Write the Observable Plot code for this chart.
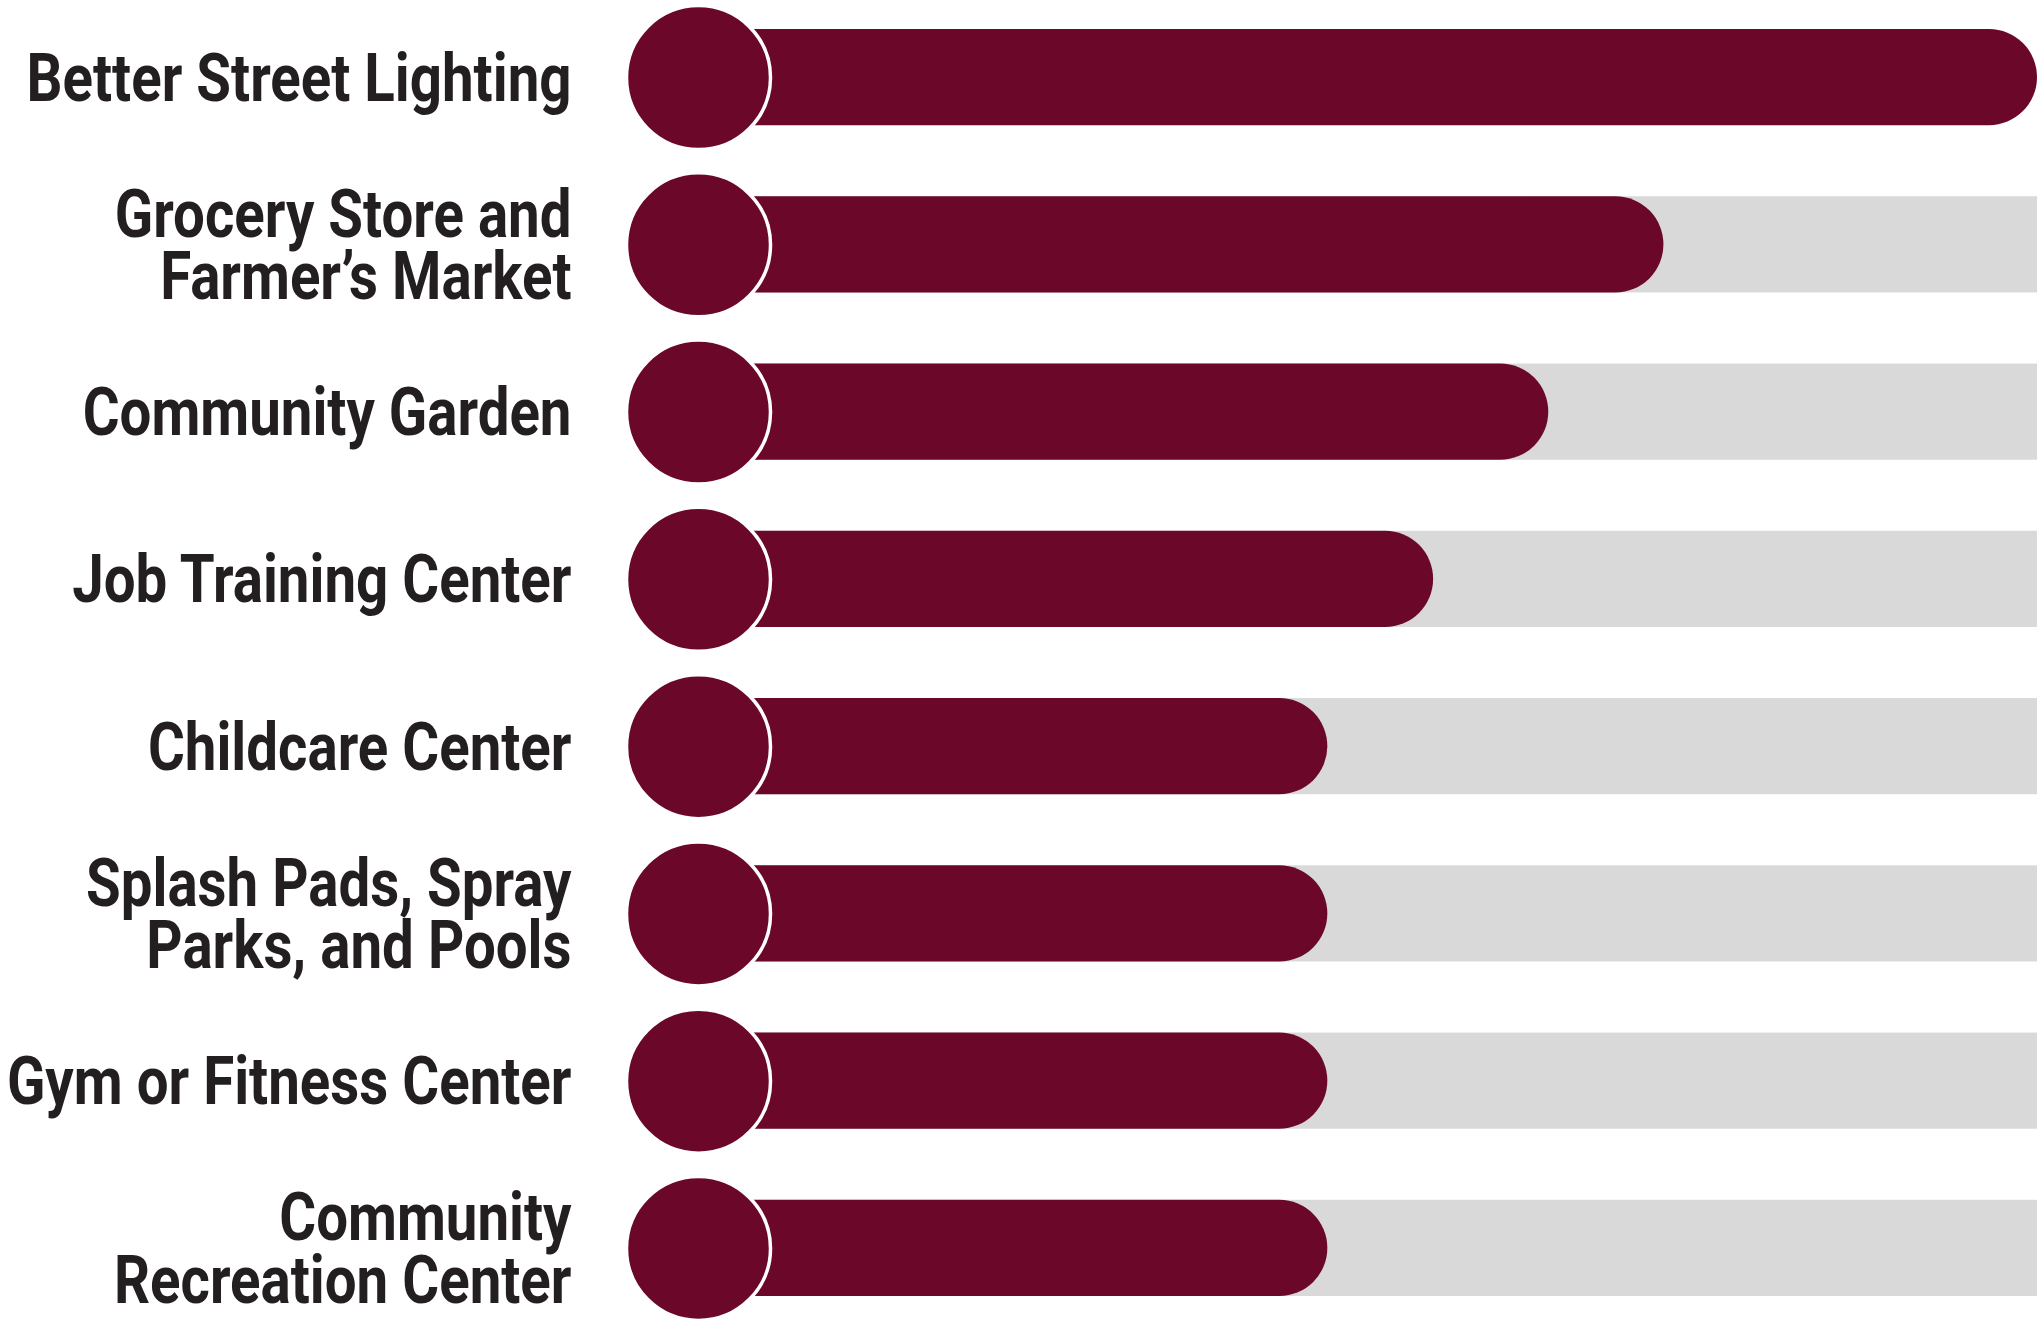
<!DOCTYPE html>
<html><head><meta charset="utf-8">
<script src="https://cdn.jsdelivr.net/npm/d3@7"></script>
<script src="https://cdn.jsdelivr.net/npm/@observablehq/plot@0.6"></script>
<style>html,body{margin:0;padding:0;background:#fff;} svg{display:block}</style>
</head><body><div id="chart"></div>
<script>
const categories = [
  "Better Street Lighting",
  "Grocery Store and\nFarmer’s Market",
  "Community Garden",
  "Job Training Center",
  "Childcare Center",
  "Splash Pads, Spray\nParks, and Pools",
  "Gym or Fitness Center",
  "Community\nRecreation Center"
];
const values = [100, 72.1, 63.5, 54.9, 47.0, 47.0, 47.0, 47.0];
const maxValue = 100;

const data = categories.map((c, i) => ({category: c, value: values[i]}));

const chart = Plot.plot({
  width: 2037,
  height: 1321,
  marginLeft: 698,
  marginRight: 0,
  marginTop: 29,
  marginBottom: 25,
  x: {domain: [0, maxValue], axis: null},
  y: {domain: categories, paddingInner: 0.425, paddingOuter: 0, round: false, axis: null},
  style: {fontFamily: "Roboto, 'Noto Sans', sans-serif", background: "#fff"},
  marks: [
    Plot.barX(data.filter(d => d.value < maxValue), {y: "category", x1: 0, x2: maxValue, fill: "#d8d9d8"}),
    Plot.barX(data, {y: "category", x: "value", fill: "#6b0829", rx: 48}),
    Plot.dot(data, {y: "category", x: 0, r: 72, fill: "#6b0829", stroke: "#ffffff", strokeWidth: 3.5}),
    Plot.text(data, {
      y: "category", text: "category", frameAnchor: "left", dx: -127, dy: 3,
      textAnchor: "end", fontSize: 66, fontWeight: "bold", fill: "#231f20", lineHeight: 0.95
    })
  ]
});
// condense the label glyphs horizontally (Roboto Condensed look-alike), anchored at each label's right edge
const squeeze = 0.855;
chart.querySelectorAll("g[aria-label='text'] text").forEach(t => {
  const tr = t.getAttribute("transform") || "";
  const x = +t.getAttribute("x") || 0;
  const y = +t.getAttribute("y") || 0;
  t.setAttribute("transform", `${tr} translate(${x},${y}) scale(${squeeze},1) translate(${-x},${-y})`);
});
document.getElementById("chart").appendChild(chart);
</script>
</body></html>
